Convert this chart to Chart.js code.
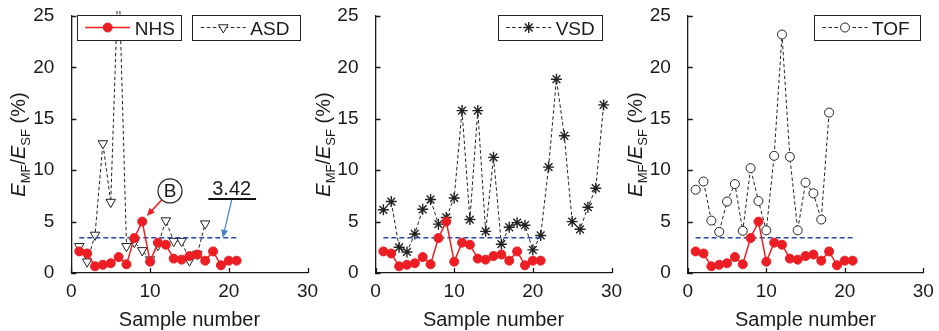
<!DOCTYPE html>
<html><head><meta charset="utf-8">
<script src="https://cdn.jsdelivr.net/npm/chart.js@4.4.1/dist/chart.umd.min.js"></script>
<style>
html,body{margin:0;padding:0;background:#fff;}
#wrap{position:relative;width:939px;height:331px;overflow:hidden;}
canvas{position:absolute;left:0;top:0;}
</style></head><body>
<div id="wrap">
<canvas id="c1" width="939" height="331"></canvas>
<canvas id="c2" width="939" height="331"></canvas>
<canvas id="c3" width="939" height="331"></canvas>
</div>
<script>
// ---- data ----
const X_TICKS = [0, 10, 20, 30];
const Y_TICKS = [0, 5, 10, 15, 20, 25];
const NHS = [2.1, 1.9, 0.65, 0.8, 0.95, 1.55, 0.85, 3.4, 5.0, 1.1, 2.95, 2.75, 1.4, 1.3, 1.65, 1.8, 1.2, 2.1, 0.75, 1.2, 1.2];
const ASD = [2.6, 1.1, 3.7, 12.6, 6.9, 30, 2.6, 3.0, 2.2, 1.3, 2.7, 5.1, 3.1, 3.1, 1.2, 1.85, 4.8];
const VSD = [6.15, 6.95, 2.5, 2.05, 3.8, 6.2, 7.15, 4.75, 5.4, 7.3, 15.8, 5.2, 15.8, 4.05, 11.25, 2.8, 4.45, 4.9, 4.65, 2.25, 3.65, 10.3, 18.85, 13.35, 5.0, 4.25, 6.4, 8.25, 16.35];
const TOF = [8.1, 8.9, 5.1, 4.0, 6.95, 8.65, 4.1, 10.2, 7.0, 4.15, 11.4, 23.2, 11.3, 4.15, 8.8, 7.75, 5.2, 15.6];
const THRESHOLD = 3.42;
const THRESHOLD_SPAN = [1, 21];
const SERIES_NAMES = ['NHS', 'ASD', 'VSD', 'TOF'];
const X_TITLE = 'Sample number';

// ---- styles ----
const FF = '"Liberation Sans", Arial, Helvetica, sans-serif';
const TXT = '#1a1a1a';
const AXIS = '#1a1a1a';
const RED = 'rgb(236,30,36)';
const BLUE = 'rgb(38,72,170)';
const ARROW_BLUE = 'rgb(70,130,200)';
const DARK = '#222';
const TOP = 16, BOTTOM = 273;
const YAXIS_W = 60, XAXIS_H = 331 - BOTTOM;

function pts(arr){ return arr.map((v,i)=>({x:i+1, y:v})); }

function drawMarker(ctx, style, x, y, r, rot, fill, stroke, lw){
  ctx.save();
  ctx.fillStyle = fill; ctx.strokeStyle = stroke; ctx.lineWidth = lw;
  ctx.beginPath();
  if (style === 'circle') {
    ctx.arc(x, y, r, 0, Math.PI*2);
    ctx.fill(); ctx.stroke();
  } else if (style === 'triangle') {
    let a = rot*Math.PI/180;
    for (let k=0;k<3;k++){
      const ang = a + k*2*Math.PI/3;
      const px = x + Math.sin(ang)*r, py = y - Math.cos(ang)*r;
      if (k===0) ctx.moveTo(px,py); else ctx.lineTo(px,py);
    }
    ctx.closePath(); ctx.fill(); ctx.stroke();
  } else if (style === 'star') {
    for (let k=0;k<4;k++){
      const ang = k*Math.PI/4;
      ctx.moveTo(x - Math.cos(ang)*r, y - Math.sin(ang)*r);
      ctx.lineTo(x + Math.cos(ang)*r, y + Math.sin(ang)*r);
    }
    ctx.stroke();
  }
  ctx.restore();
}

// inward tick marks + x tick labels (from the library's scale ticks)
const ticksIn = {
  id: 'ticksIn',
  afterDraw(chart){
    const {ctx, chartArea:a, scales:{x, y}} = chart;
    ctx.save();
    ctx.strokeStyle = AXIS; ctx.lineWidth = 1.3;
    ctx.beginPath();
    x.ticks.forEach(t=>{ const px = Math.round(x.getPixelForValue(t.value))+0.5; ctx.moveTo(px, a.bottom); ctx.lineTo(px, a.bottom-5); });
    y.ticks.forEach(t=>{ const py = Math.round(y.getPixelForValue(t.value))+0.5; ctx.moveTo(a.left, py); ctx.lineTo(a.left+5, py); });
    ctx.stroke();
    ctx.fillStyle = TXT; ctx.font = '19px ' + FF; ctx.textAlign = 'center'; ctx.textBaseline = 'alphabetic';
    x.ticks.forEach(t=>{ ctx.fillText(t.label != null ? String(t.label) : String(t.value), x.getPixelForValue(t.value), a.bottom + 24); });
    ctx.restore();
  }
};

const titles = {
  id: 'titles',
  afterDraw(chart){
    const {ctx, chartArea:a} = chart;
    ctx.save();
    ctx.fillStyle = TXT;
    ctx.font = '20px ' + FF;
    ctx.textAlign = 'center'; ctx.textBaseline = 'alphabetic';
    ctx.fillText(X_TITLE, (a.left+a.right)/2, 326);
    const parts = [
      {t:'E', f:'italic 20px '+FF, dy:0},
      {t:'MF', f:'13px '+FF, dy:5},
      {t:'/', f:'20px '+FF, dy:0},
      {t:'E', f:'italic 20px '+FF, dy:0},
      {t:'SF', f:'13px '+FF, dy:5},
      {t:' (%)', f:'20px '+FF, dy:0}
    ];
    let w = 0;
    parts.forEach(p=>{ ctx.font = p.f; p.w = ctx.measureText(p.t).width; w += p.w; });
    ctx.translate(a.left - 46, (a.top + a.bottom)/2);
    ctx.rotate(-Math.PI/2);
    ctx.textAlign = 'left';
    let cx = -w/2;
    parts.forEach(p=>{ ctx.font = p.f; ctx.fillText(p.t, cx, p.dy); cx += p.w; });
    ctx.restore();
  }
};

const legendBox = {
  id: 'legendBox',
  afterDatasetsDraw(chart, args, opts){
    const ctx = chart.ctx;
    (opts.items || []).forEach(it=>{
      const ds = chart.data.datasets[it.ds];
      const y0 = 15, h = 25, yc = y0 + h/2;
      ctx.save();
      ctx.fillStyle = '#fff'; ctx.strokeStyle = '#222'; ctx.lineWidth = 1;
      ctx.fillRect(it.x, y0, it.w, h);
      ctx.strokeRect(Math.round(it.x)+0.5, y0+0.5, it.w, h);
      ctx.beginPath();
      ctx.strokeStyle = ds.borderColor; ctx.lineWidth = ds.borderWidth;
      ctx.setLineDash(ds.borderDash || []);
      ctx.moveTo(it.x+8.5, yc); ctx.lineTo(it.x+53.5, yc); ctx.stroke();
      ctx.setLineDash([]);
      drawMarker(ctx, ds.pointStyle, it.x+31, yc, ds.pointRadius, ds.pointRotation||0,
        ds.pointBackgroundColor || ds.backgroundColor, ds.pointBorderColor || ds.borderColor, ds.pointBorderWidth || 1);
      ctx.fillStyle = TXT; ctx.font = '19px ' + FF; ctx.textAlign = 'left'; ctx.textBaseline = 'alphabetic';
      ctx.fillText(ds.label, it.x+58, 35);
      ctx.restore();
    });
  }
};

function arrow(ctx, x1, y1, x2, y2, color, lw, hl, hw){
  const dx = x2-x1, dy = y2-y1, L = Math.hypot(dx,dy), ux = dx/L, uy = dy/L;
  ctx.save();
  ctx.strokeStyle = color; ctx.fillStyle = color; ctx.lineWidth = lw;
  ctx.beginPath(); ctx.moveTo(x1,y1); ctx.lineTo(x2-ux*hl*0.8, y2-uy*hl*0.8); ctx.stroke();
  ctx.beginPath();
  ctx.moveTo(x2,y2);
  ctx.lineTo(x2-ux*hl - uy*hw, y2-uy*hl + ux*hw);
  ctx.lineTo(x2-ux*hl + uy*hw, y2-uy*hl - ux*hw);
  ctx.closePath(); ctx.fill();
  ctx.restore();
}

const annot = {
  id: 'annot',
  afterDatasetsDraw(chart, args, opts){
    if (!opts.show) return;
    const {ctx, scales:{x, y}} = chart;
    const X = v=>x.getPixelForValue(v), Y = v=>y.getPixelForValue(v);
    ctx.save();
    ctx.strokeStyle = '#222'; ctx.lineWidth = 1.2;
    ctx.beginPath(); ctx.arc(X(12.53), Y(7.98), 12, 0, Math.PI*2);
    ctx.fillStyle = '#fff'; ctx.fill(); ctx.stroke();
    ctx.fillStyle = TXT; ctx.font = '19px ' + FF; ctx.textAlign = 'center'; ctx.textBaseline = 'middle';
    ctx.fillText('B', X(12.53), Y(7.98)+1);
    arrow(ctx, X(11.47), Y(7.1), X(9.57), Y(5.54), RED, 1.5, 8, 3.5);
    ctx.font = '20px ' + FF; ctx.textBaseline = 'alphabetic'; ctx.textAlign = 'center';
    ctx.fillText(String(THRESHOLD), X(20.37), Y(7.59));
    ctx.strokeStyle = '#111'; ctx.lineWidth = 2.2;
    ctx.beginPath(); ctx.moveTo(X(17.4), Y(7.2)); ctx.lineTo(X(23.46), Y(7.2)); ctx.stroke();
    arrow(ctx, X(20.37), Y(7.1), X(19.23), Y(THRESHOLD), ARROW_BLUE, 1.2, 8, 3.5);
    ctx.restore();
  }
};

const PANELS = [
  {id:'c1', left:71.4, right:307.5, name:SERIES_NAMES[1], values:ASD, marker:'triangle', rot:180, r:5.5, bw:1,
   legend:[{ds:0, x:76.7, w:104}, {ds:2, x:192.3, w:108}], annot:true},
  {id:'c2', left:375.5, right:611.5, name:SERIES_NAMES[2], values:VSD, marker:'star', rot:0, r:5.5, bw:1.4,
   legend:[{ds:2, x:497.7, w:104}], annot:false},
  {id:'c3', left:687.8, right:923.3, name:SERIES_NAMES[3], values:TOF, marker:'circle', rot:0, r:4.5, bw:1,
   legend:[{ds:2, x:814, w:106}], annot:false}
];

function fixFit(s, dim, val){ s[dim] = val; s.paddingLeft = s.paddingRight = s.paddingTop = s.paddingBottom = 0; }

PANELS.forEach(p=>{
  const datasets = [
    {label:SERIES_NAMES[0], data:pts(NHS), borderColor:RED, backgroundColor:RED, borderWidth:1.5,
     pointStyle:'circle', pointRadius:4.5, pointBackgroundColor:RED, pointBorderColor:RED, pointBorderWidth:1, order:0},
    {label:'threshold', data:[{x:THRESHOLD_SPAN[0], y:THRESHOLD}, {x:THRESHOLD_SPAN[1], y:THRESHOLD}],
     borderColor:BLUE, borderDash:[5,3], borderWidth:1.5, pointRadius:0, order:1},
    {label:p.name, data:pts(p.values), borderColor:DARK, borderDash:[3.5,2.5], borderWidth:1,
     pointStyle:p.marker, pointRotation:p.rot, pointRadius:p.r, pointBackgroundColor:'#fff',
     pointBorderColor:DARK, pointBorderWidth:p.bw, order:2, clip:{left:8, top:5, right:8, bottom:8}}
  ];
  new Chart(document.getElementById(p.id), {
    type:'line',
    data:{datasets},
    options:{
      responsive:false, animation:false, devicePixelRatio:1, events:[],
      layout:{padding:{left:p.left - YAXIS_W, right:939-p.right, top:TOP, bottom:0}},
      plugins:{legend:{display:false}, tooltip:{enabled:false}, legendBox:{items:p.legend}, annot:{show:p.annot}},
      elements:{line:{tension:0}},
      scales:{
        x:{type:'linear', min:0, max:30,
           afterBuildTicks:s=>{ s.ticks = X_TICKS.map(v=>({value:v})); },
           afterFit:s=>fixFit(s,'height',XAXIS_H),
           grid:{display:false}, border:{display:true, color:AXIS, width:1.3},
           ticks:{display:false, font:{family:FF, size:19}, color:TXT, maxRotation:0, autoSkip:false}},
        y:{type:'linear', min:0, max:25,
           afterBuildTicks:s=>{ s.ticks = Y_TICKS.map(v=>({value:v})); },
           afterFit:s=>fixFit(s,'width',YAXIS_W),
           grid:{display:false}, border:{display:true, color:AXIS, width:1.3},
           ticks:{font:{family:FF, size:19}, color:TXT, padding:9, autoSkip:false}}
      }
    },
    plugins:[ticksIn, titles, legendBox, annot]
  });
});
</script>
</body></html>
